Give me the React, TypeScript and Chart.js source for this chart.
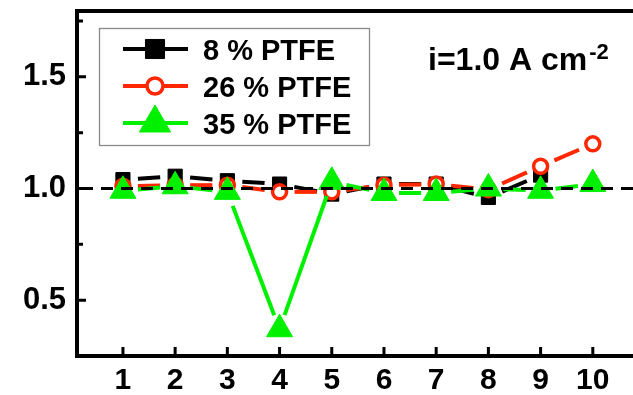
import React, { useEffect, useRef } from 'react';
import { Chart, registerables } from 'chart.js';

Chart.register(...registerables);

// Normalised values per cycle for three PTFE loadings
const cycles = [1, 2, 3, 4, 5, 6, 7, 8, 9, 10];
const ptfe8 = [1.04, 1.055, 1.035, 1.02, 0.975, 1.02, 1.02, 0.96, 1.06, null];
const ptfe26 = [1.01, 1.015, 1.015, 0.985, 0.985, 1.015, 1.02, 0.995, 1.1, 1.2];
const ptfe35 = [0.99, 1.01, 0.985, 0.37, 1.03, 0.98, 0.98, 1.0, 0.99, 1.02];

const seriesLabels = ['8 % PTFE', '26 % PTFE', '35 % PTFE'];
const xTicks = [1, 2, 3, 4, 5, 6, 7, 8, 9, 10];
const yMajorTicks = [0.5, 1.0, 1.5];
const yMinorTicks = [0.75, 1.25, 1.75];
const referenceValue = 1.0;
const currentText = 'i=1.0 A cm';
const currentExponent = '-2';

const WIDTH = 633;
const HEIGHT = 395;
const FONT = '"Liberation Sans", Arial, Helvetica, sans-serif';
const BLACK = '#000000';
const RED = '#ff2600';
const GREEN = '#00f000';

type MarkerStyle = 'rect' | 'circle' | 'triangle';

function drawMarker(
  ctx: CanvasRenderingContext2D,
  style: MarkerStyle,
  x: number,
  y: number,
  r: number,
  fill: string,
  stroke: string,
  lw: number
) {
  ctx.save();
  ctx.beginPath();
  if (style === 'rect') {
    const h = Math.SQRT1_2 * r;
    ctx.rect(x - h, y - h, 2 * h, 2 * h);
  } else if (style === 'circle') {
    ctx.arc(x, y, r, 0, Math.PI * 2);
  } else {
    let a = 0;
    ctx.moveTo(x + Math.sin(a) * r, y - Math.cos(a) * r);
    a += (2 * Math.PI) / 3;
    ctx.lineTo(x + Math.sin(a) * r, y - Math.cos(a) * r);
    a += (2 * Math.PI) / 3;
    ctx.lineTo(x + Math.sin(a) * r, y - Math.cos(a) * r);
    ctx.closePath();
  }
  ctx.fillStyle = fill;
  ctx.fill();
  ctx.lineWidth = lw;
  ctx.strokeStyle = stroke;
  ctx.stroke();
  ctx.restore();
}

// Connecting lines that stop short of each symbol
const gappedLines = {
  id: 'gappedLines',
  beforeDatasetDraw(chart: any, args: any) {
    const ds = chart.data.datasets[args.index];
    const pts = args.meta.data;
    const gap = ds.lineGap ?? 15;
    const ctx = chart.ctx as CanvasRenderingContext2D;
    ctx.save();
    ctx.strokeStyle = ds.lineColor;
    ctx.lineWidth = ds.lineWidthPx ?? 4;
    ctx.lineCap = 'butt';
    for (let i = 0; i < pts.length - 1; i++) {
      const a = pts[i];
      const b = pts[i + 1];
      if (!a || !b || a.skip || b.skip) continue;
      const dx = b.x - a.x;
      const dy = b.y - a.y;
      const d = Math.hypot(dx, dy);
      if (d <= 2 * gap) continue;
      const ux = dx / d;
      const uy = dy / d;
      ctx.beginPath();
      ctx.moveTo(a.x + ux * gap, a.y + uy * gap);
      ctx.lineTo(b.x - ux * gap, b.y - uy * gap);
      ctx.stroke();
    }
    ctx.restore();
  },
};

// Frame, inward tick marks and the dashed reference level
const frame = {
  id: 'frame',
  afterDatasetsDraw(chart: any) {
    const ctx = chart.ctx as CanvasRenderingContext2D;
    const { left, right, top, bottom } = chart.chartArea;
    const xs = chart.scales.x;
    const ys = chart.scales.y;
    ctx.save();

    const yRef = ys.getPixelForValue(referenceValue);
    ctx.strokeStyle = BLACK;
    ctx.lineWidth = 3;
    ctx.setLineDash([12, 8]);
    ctx.beginPath();
    ctx.moveTo(left + 4, yRef);
    ctx.lineTo(right, yRef);
    ctx.stroke();
    ctx.setLineDash([]);

    ctx.lineWidth = 4;
    ctx.lineCap = 'square';
    ctx.beginPath();
    ctx.moveTo(right + 2, top);
    ctx.lineTo(left, top);
    ctx.lineTo(left, bottom);
    ctx.lineTo(right + 2, bottom);
    ctx.stroke();

    ctx.lineCap = 'butt';
    ctx.lineWidth = 3;
    ctx.beginPath();
    for (const v of xTicks) {
      const px = xs.getPixelForValue(v);
      ctx.moveTo(px, bottom);
      ctx.lineTo(px, bottom - 9);
    }
    for (const v of yMajorTicks) {
      const py = ys.getPixelForValue(v);
      ctx.moveTo(left, py);
      ctx.lineTo(left + 9, py);
    }
    for (const v of yMinorTicks) {
      const py = ys.getPixelForValue(v);
      ctx.moveTo(left, py);
      ctx.lineTo(left + 6, py);
    }
    ctx.stroke();
    ctx.restore();
  },
};

// Boxed legend and the current-density note
const notes = {
  id: 'notes',
  afterDraw(chart: any) {
    const ctx = chart.ctx as CanvasRenderingContext2D;
    ctx.save();

    const bx = 99.5;
    const by = 28.5;
    const bw = 270;
    const bh = 117;
    ctx.fillStyle = '#ffffff';
    ctx.fillRect(bx, by, bw, bh);
    ctx.strokeStyle = '#8a8a8a';
    ctx.lineWidth = 1.3;
    ctx.strokeRect(bx, by, bw, bh);

    const rowY = [49, 86, 123];
    chart.data.datasets.forEach((ds: any, i: number) => {
      const y = rowY[i];
      ctx.strokeStyle = ds.lineColor;
      ctx.lineWidth = 4;
      ctx.beginPath();
      ctx.moveTo(123, y);
      ctx.lineTo(188, y);
      ctx.stroke();
      drawMarker(
        ctx,
        ds.pointStyle,
        155,
        y,
        ds.legendRadius,
        ds.pointBackgroundColor,
        ds.pointBorderColor,
        ds.pointBorderWidth
      );
      ctx.fillStyle = BLACK;
      ctx.font = `bold 29px ${FONT}`;
      ctx.textAlign = 'left';
      ctx.textBaseline = 'alphabetic';
      ctx.fillText(ds.label, 203, y + 11);
    });

    ctx.fillStyle = BLACK;
    ctx.font = `bold 32px ${FONT}`;
    ctx.textBaseline = 'alphabetic';
    ctx.fillText(currentText, 428, 70);
    const w = ctx.measureText(currentText).width;
    ctx.font = `bold 22px ${FONT}`;
    ctx.fillText(currentExponent, 428 + w + 2, 59);
    ctx.restore();
  },
};

const toPoints = (vals: (number | null)[]) => cycles.map((c, i) => ({ x: c, y: vals[i] }));

export default function App() {
  const canvasRef = useRef<HTMLCanvasElement | null>(null);

  useEffect(() => {
    const canvas = canvasRef.current;
    if (!canvas) return;
    canvas.width = WIDTH;
    canvas.height = HEIGHT;
    const chart = new Chart(canvas, {
      type: 'line',
      data: {
        datasets: [
          {
            label: seriesLabels[0],
            data: toPoints(ptfe8),
            showLine: false,
            order: 3,
            pointStyle: 'rect',
            pointRadius: 10,
            pointBackgroundColor: BLACK,
            pointBorderColor: BLACK,
            pointBorderWidth: 1,
            lineColor: BLACK,
            lineWidthPx: 4,
            lineGap: 15,
            legendRadius: 13.5,
          } as any,
          {
            label: seriesLabels[1],
            data: toPoints(ptfe26),
            showLine: false,
            order: 2,
            pointStyle: 'circle',
            pointRadius: 7,
            pointBackgroundColor: '#ffffff',
            pointBorderColor: RED,
            pointBorderWidth: 3.5,
            lineColor: RED,
            lineWidthPx: 4,
            lineGap: 15,
            legendRadius: 8,
          } as any,
          {
            label: seriesLabels[2],
            data: toPoints(ptfe35),
            showLine: false,
            order: 1,
            pointStyle: 'triangle',
            pointRadius: 15,
            pointBackgroundColor: GREEN,
            pointBorderColor: GREEN,
            pointBorderWidth: 1,
            lineColor: GREEN,
            lineWidthPx: 4,
            lineGap: 15,
            legendRadius: 18,
          } as any,
        ],
      },
      options: {
        animation: false,
        responsive: false,
        maintainAspectRatio: false,
        devicePixelRatio: 1,
        events: [],
        layout: { autoPadding: false, padding: { top: 11, left: 0, right: 0, bottom: 0 } },
        plugins: { legend: { display: false }, tooltip: { enabled: false } },
        scales: {
          x: {
            type: 'linear',
            min: 0.12,
            max: 10.77,
            grid: { display: false, drawTicks: false },
            border: { display: false },
            afterBuildTicks: (s: any) => {
              s.ticks = xTicks.map((v) => ({ value: v }));
            },
            afterFit: (s: any) => {
              s.height = 39;
              s.paddingLeft = 0;
              s.paddingRight = 0;
            },
            ticks: {
              font: { family: FONT, size: 30, weight: 'bold' as const },
              color: BLACK,
              padding: 7,
              maxRotation: 0,
              autoSkip: false,
              callback: (v: any) => String(v),
            },
          },
          y: {
            type: 'linear',
            min: 0.25,
            max: 1.795,
            grid: { display: false, drawTicks: false },
            border: { display: false },
            afterBuildTicks: (s: any) => {
              s.ticks = yMajorTicks.map((v) => ({ value: v }));
            },
            afterFit: (s: any) => {
              s.width = 77;
              s.paddingTop = 0;
              s.paddingBottom = 0;
            },
            ticks: {
              font: { family: FONT, size: 31, weight: 'bold' as const },
              color: BLACK,
              padding: 11,
              autoSkip: false,
              callback: (v: any) => Number(v).toFixed(1),
            },
          },
        },
      },
      plugins: [gappedLines, frame, notes],
    });
    return () => chart.destroy();
  }, []);

  return (
    <div style={{ position: 'absolute', left: 0, top: 0, width: WIDTH, height: HEIGHT, background: '#fff' }}>
      <canvas ref={canvasRef} width={WIDTH} height={HEIGHT} style={{ display: 'block', width: WIDTH, height: HEIGHT }} />
    </div>
  );
}
